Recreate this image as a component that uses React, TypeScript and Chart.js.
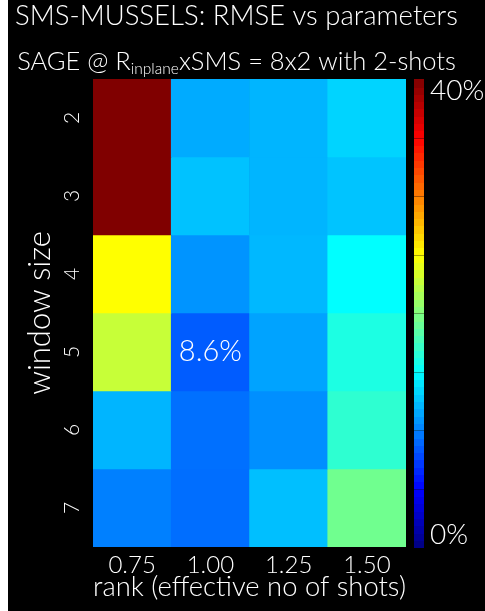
import React, { useEffect, useRef } from 'react';
import { Chart, registerables } from 'chart.js';

Chart.register(...registerables);

const FONT = 'Lato, "Open Sans", sans-serif';
const WEIGHT = 300;

const rankLabels = ['0.75', '1.00', '1.25', '1.50'];
const windowLabels = ['2', '3', '4', '5', '6', '7'];

// RMSE (%) per window size, one value per rank
const rmseWindow2 = [40, 11.7, 12.1, 13.3];
const rmseWindow3 = [40, 12.6, 12.1, 12.7];
const rmseWindow4 = [25, 10.8, 12.2, 15.0];
const rmseWindow5 = [22.8, 8.6, 11.4, 16.1];
const rmseWindow6 = [12.1, 9.4, 10.6, 16.8];
const rmseWindow7 = [10.0, 9.3, 12.5, 19.4];
const rmseRows = [rmseWindow2, rmseWindow3, rmseWindow4, rmseWindow5, rmseWindow6, rmseWindow7];

const colorMin = 0;
const colorMax = 40;
const colorbarTicks = [0, 40];
const colorbarStep = 5;
const annotatedWindow = '5';
const annotatedRank = '1.00';

const titleLine = 'SMS-MUSSELS: RMSE vs parameters';
const subtitleMain = 'SAGE @ R';
const subtitleSub = 'inplane';
const subtitleRest = 'xSMS = 8x2 with 2-shots';
const xTitle = 'rank (effective no of shots)';
const yTitle = 'window size';

const clamp01 = (v: number) => Math.max(0, Math.min(1, v));
function jet(t: number): string {
  const x = clamp01(t);
  const r = clamp01(1.5 - Math.abs(4 * x - 3));
  const g = clamp01(1.5 - Math.abs(4 * x - 2));
  const b = clamp01(1.5 - Math.abs(4 * x - 1));
  return `rgb(${Math.round(r * 255)},${Math.round(g * 255)},${Math.round(b * 255)})`;
}
const norm = (v: number) => (v - colorMin) / (colorMax - colorMin);
const f = (size: number) => `${WEIGHT} ${size}px ${FONT}`;

const decorPlugin = {
  id: 'decor',
  afterDraw(chart: any) {
    const { ctx, chartArea, scales } = chart;
    ctx.save();
    // titles
    const cx = 228.5;
    ctx.fillStyle = '#fff';
    ctx.textBaseline = 'alphabetic';
    ctx.textAlign = 'center';
    ctx.font = f(27.5);
    ctx.fillText(titleLine, cx, 25);
    const big = f(25.5);
    const small = f(15.5);
    ctx.font = big;
    const w1 = ctx.measureText(subtitleMain).width;
    const w3 = ctx.measureText(subtitleRest).width;
    ctx.font = small;
    const w2 = ctx.measureText(subtitleSub).width;
    let x = cx - (w1 + w2 + w3) / 2;
    ctx.textAlign = 'left';
    ctx.font = big;
    ctx.fillText(subtitleMain, x, 70);
    x += w1;
    ctx.font = small;
    ctx.fillText(subtitleSub, x, 74);
    x += w2;
    ctx.font = big;
    ctx.fillText(subtitleRest, x, 70);

    // colorbar
    const left = chartArea.right + 8;
    const width = 10;
    const h = chartArea.bottom - chartArea.top;
    const n = 64;
    for (let i = 0; i < n; i++) {
      const y0 = chartArea.bottom - ((i + 1) / n) * h;
      ctx.fillStyle = jet((i + 0.5) / n);
      ctx.fillRect(left, Math.floor(y0), width, Math.ceil(h / n) + 1);
    }
    ctx.strokeStyle = 'rgba(0,0,0,0.35)';
    ctx.lineWidth = 1;
    for (let v = colorMin + colorbarStep; v < colorMax; v += colorbarStep) {
      const y = Math.round(chartArea.bottom - norm(v) * h) + 0.5;
      ctx.beginPath();
      ctx.moveTo(left, y);
      ctx.lineTo(left + width, y);
      ctx.stroke();
    }

    // annotation
    const ri = windowLabels.indexOf(annotatedWindow);
    const ci = rankLabels.indexOf(annotatedRank);
    const val = rmseRows[ri][ci];
    const ax = scales.x.getPixelForValue(ci);
    const ay = scales.y.getPixelForValue(ri + 0.5);
    ctx.fillStyle = '#fff';
    ctx.font = f(29);
    ctx.textAlign = 'center';
    ctx.textBaseline = 'middle';
    ctx.fillText(`${val.toFixed(1)}%`, ax, ay);
    ctx.restore();
  },
};

export default function App() {
  const ref = useRef<HTMLCanvasElement>(null);
  useEffect(() => {
    const datasets = rmseRows.map((row, i) => ({
      label: `window ${windowLabels[i]}`,
      data: row.map(() => 1),
      backgroundColor: row.map((v) => jet(norm(v))),
      borderWidth: 0,
      barPercentage: 1,
      categoryPercentage: 1,
      xAxisID: 'x',
      yAxisID: 'y',
    }));
    const chart = new Chart(ref.current as HTMLCanvasElement, {
      type: 'bar',
      data: { labels: rankLabels, datasets },
      options: {
        animation: false,
        responsive: false,
        layout: { padding: { top: 79, left: 0, right: 1, bottom: 0 } },
        plugins: {
          legend: { display: false },
          tooltip: { enabled: false },
          title: { display: false },
        },
        scales: {
          x: {
            type: 'category',
            stacked: true,
            offset: true,
            afterFit: (s: any) => { s.height = 64; },
            grid: { display: false, drawTicks: false },
            border: { display: false },
            ticks: { color: '#fff', font: { family: FONT, size: 24, weight: WEIGHT, lineHeight: 1 }, padding: 6 },
            title: {
              display: true,
              text: xTitle,
              color: '#fff',
              font: { family: FONT, size: 28, weight: WEIGHT, lineHeight: 1 },
              padding: { top: 0, bottom: 10 },
            },
          },
          y: {
            type: 'linear',
            stacked: true,
            min: 0,
            max: windowLabels.length,
            reverse: true,
            display: false,
          },
          yl: {
            type: 'category',
            axis: 'y',
            position: 'left',
            labels: windowLabels,
            offset: true,
            afterFit: (s: any) => { s.width = 85; },
            grid: { display: false, drawTicks: false },
            border: { display: false },
            ticks: {
              color: '#fff',
              font: { family: FONT, size: 21, weight: WEIGHT, lineHeight: 1 },
              minRotation: 90,
              maxRotation: 90,
              crossAlign: 'center',
              padding: 15,
            },
            title: {
              display: true,
              text: yTitle,
              color: '#fff',
              font: { family: FONT, size: 31, weight: WEIGHT, lineHeight: 1 },
              padding: { top: 16.5, bottom: 0 },
            },
          },
          cb: {
            type: 'linear',
            axis: 'y',
            position: 'right',
            min: colorMin - 1.1,
            max: colorMax + 1.1,
            afterBuildTicks: (s: any) => {
              s.ticks = colorbarTicks.map((v) => ({ value: v }));
            },
            afterFit: (s: any) => { s.width = 78; },
            grid: { display: false, drawTicks: false },
            border: { display: false },
            ticks: {
              color: '#fff',
              font: { family: FONT, size: 28, weight: WEIGHT, lineHeight: 1 },
              padding: 24,
              callback: (v: any) => `${v}%`,
            },
          },
        },
      } as any,
      plugins: [decorPlugin],
    });
    return () => chart.destroy();
  }, []);
  return (
    <div style={{ position: 'absolute', left: 8, top: 0, width: 477, height: 611, background: '#000' }}>
      <canvas ref={ref} width={477} height={611} style={{ display: 'block' }} />
    </div>
  );
}
